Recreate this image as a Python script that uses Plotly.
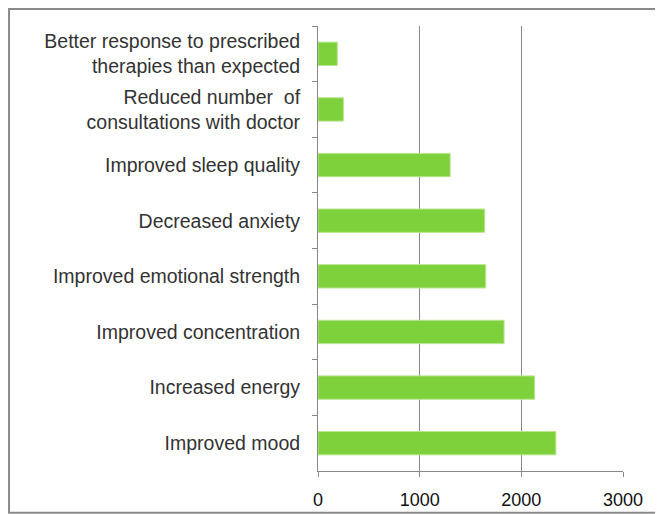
import plotly.graph_objects as go

categories = [
    'Better response to prescribed<br>therapies than expected',
    'Reduced number  of<br>consultations with doctor',
    'Improved sleep quality',
    'Decreased anxiety',
    'Improved emotional strength',
    'Improved concentration',
    'Increased energy',
    'Improved mood',
]
values = [190, 250, 1300, 1640, 1650, 1830, 2130, 2340]
x_ticks = [0, 1000, 2000, 3000]

fig = go.Figure(go.Bar(
    x=values,
    y=categories,
    orientation='h',
    width=0.42,
    marker=dict(color='#7fd13b', line=dict(color='#b9e690', width=1)),
))

fig.update_yaxes(autorange='reversed',
                 automargin=False,
                 tickson='boundaries',
                 ticks='outside',
                 ticklen=5,
                 tickcolor='#888888',
                 showline=True,
                 linecolor='#888888',
                 linewidth=1,
                 ticklabelstandoff=13,
                 tickfont=dict(family='Liberation Sans', size=19.5, color='#333333'))
fig.update_xaxes(range=[0, 3000],
                 automargin=False,
                 tickvals=x_ticks,
                 ticks='outside',
                 ticklen=5,
                 tickcolor='#888888',
                 showline=True,
                 linecolor='#888888',
                 linewidth=1,
                 showgrid=True,
                 gridcolor='#888888',
                 gridwidth=1,
                 zeroline=False,
                 ticklabelstandoff=7,
                 tickfont=dict(family='Liberation Sans', size=18, color='#111111'))

# page body has an 8px margin, so the figure is sized to fit the window
fig.update_layout(
    width=655,
    height=506,
    margin=dict(l=310, r=40, t=18, b=43),
    plot_bgcolor='white',
    paper_bgcolor='white',
    showlegend=False,
    shapes=[dict(type='rect', xref='paper', yref='paper',
                 x0=-1.013, x1=1.2, y0=-0.094, y1=1.038,
                 line=dict(color='#8a8a8a', width=2))],
)

fig.write_html('out.html')
